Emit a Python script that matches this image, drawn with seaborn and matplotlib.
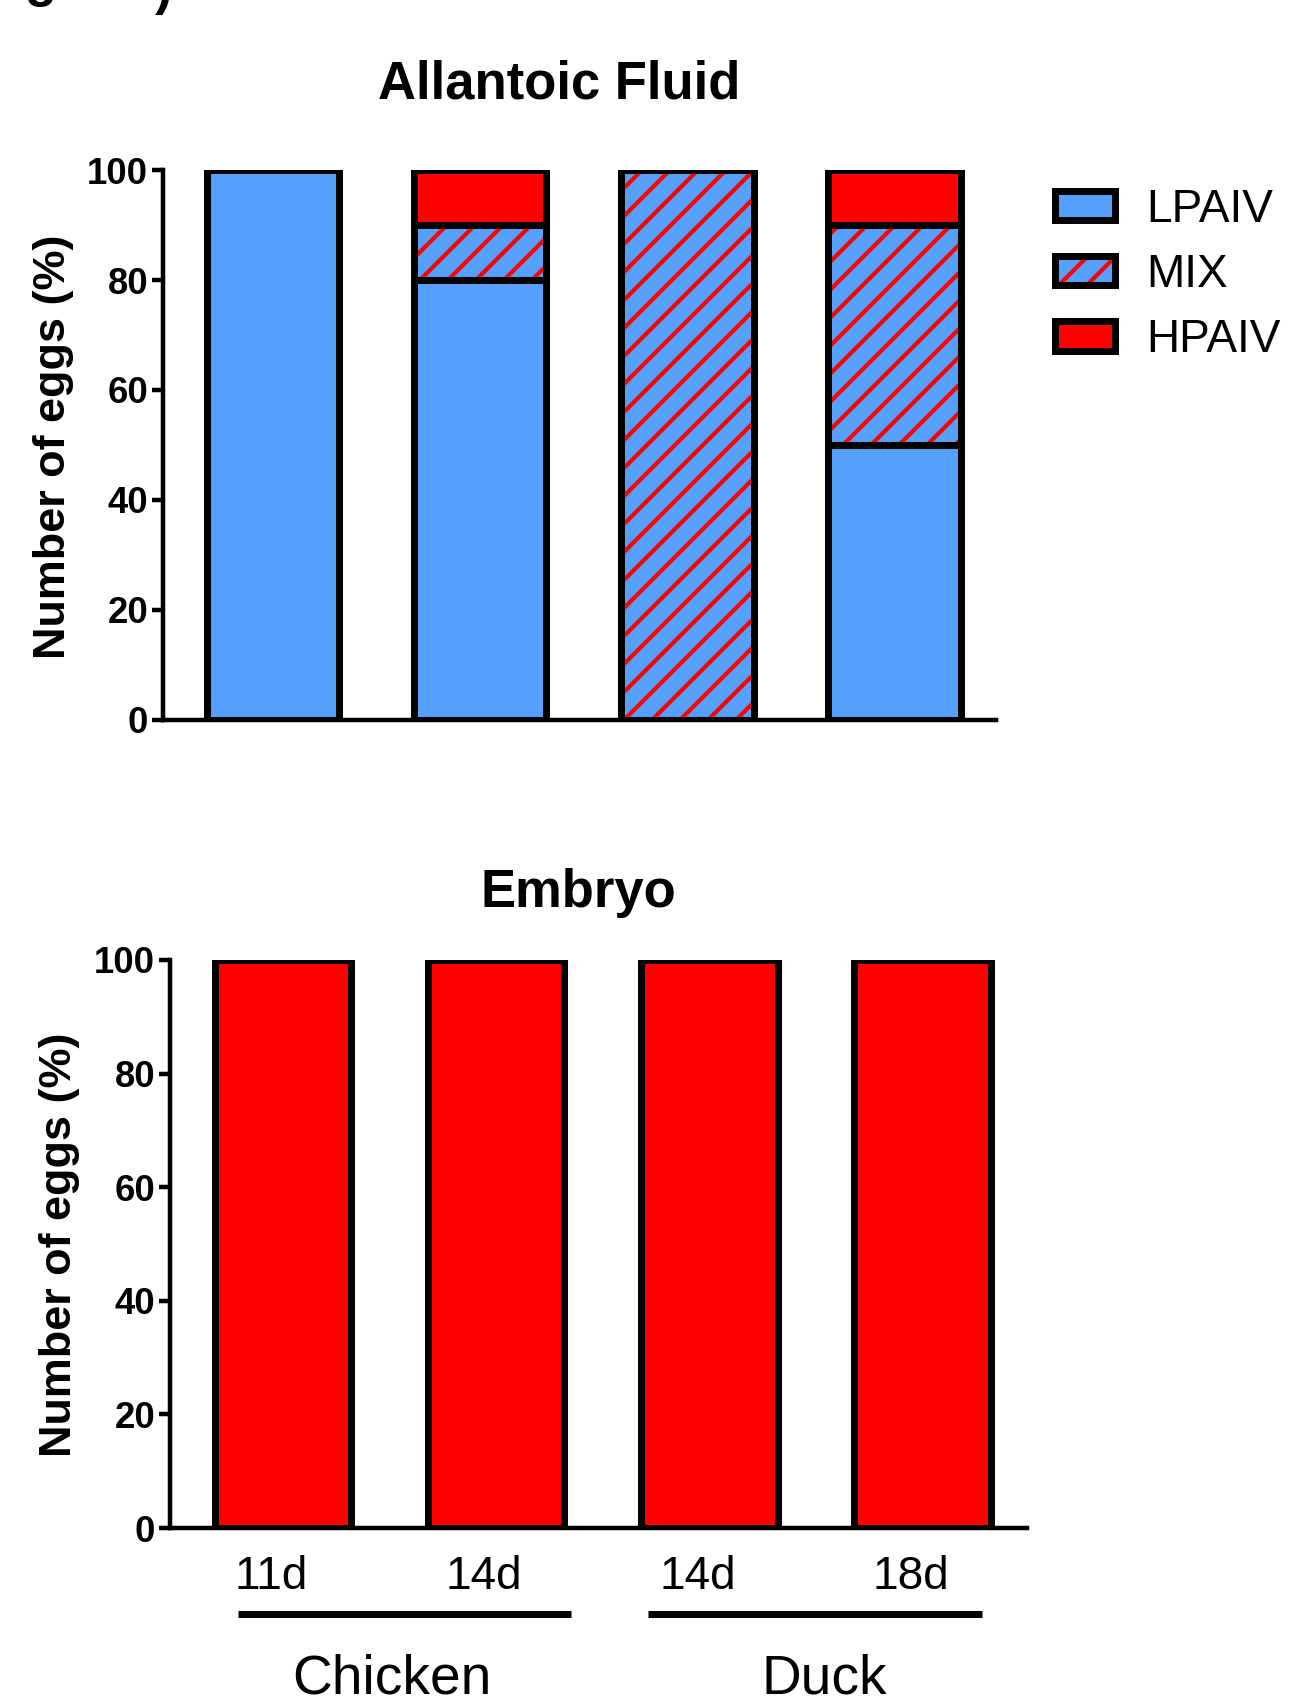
import matplotlib
matplotlib.use("Agg")
import matplotlib.pyplot as plt
import matplotlib.transforms as mtransforms
import pandas as pd
import seaborn as sns
from matplotlib.patches import Patch

# ---- data -------------------------------------------------------------
species = ["Chicken", "Chicken", "Duck", "Duck"]
egg_age = ["11d", "14d", "14d", "18d"]
allantoic_lpaiv = [100, 80, 0, 50]
allantoic_mix = [0, 10, 100, 40]
allantoic_hpaiv = [0, 10, 0, 10]
embryo_hpaiv = [100, 100, 100, 100]
y_ticks = [0, 20, 40, 60, 80, 100]
legend_labels = ["LPAIV", "MIX", "HPAIV"]

# ---- style ------------------------------------------------------------
DPI = 168
PT = 72 / DPI          # one pixel expressed in points
BLUE = "#55A0FF"
RED = "#FF0000"
EDGE = 7 * PT
SPINE = 4.5 * PT
W = 0.64
HATCH = "//"

sns.set_style("ticks")
plt.rcParams.update({
    "font.family": ["Liberation Sans", "DejaVu Sans"],
    "hatch.linewidth": 4.2 * PT,
    "axes.edgecolor": "black",
    "xtick.color": "black",
    "ytick.color": "black",
    "text.color": "black",
    "axes.labelcolor": "black",
})

fig = plt.figure(figsize=(1289 / DPI, 1702 / DPI), dpi=DPI)
ax_top = fig.add_axes([0.1265, 0.5770, 0.6462, 0.3231])
ax_bot = fig.add_axes([0.1319, 0.1022, 0.6648, 0.3338])

keys = [f"{s} {a}" for s, a in zip(species, egg_age)]
af = pd.DataFrame({"key": keys, "lp": allantoic_lpaiv,
                   "mix": allantoic_mix, "hp": allantoic_hpaiv})
af["mix_top"] = af["lp"] + af["mix"]
af["total"] = af["mix_top"] + af["hp"]
emb = pd.DataFrame({"key": keys, "hp": embryo_hpaiv})

common = dict(x="key", order=keys, width=W, saturation=1, errorbar=None)

# stacked bars drawn as overlaid cumulative totals
sns.barplot(data=af, y="total", color=RED, edgecolor="black",
            linewidth=EDGE, ax=ax_top, **common)
sns.barplot(data=af, y="mix_top", color=BLUE, edgecolor=RED,
            linewidth=0, hatch=HATCH, ax=ax_top, **common)
sns.barplot(data=af, y="mix_top", color="black", fill=False,
            linewidth=EDGE, ax=ax_top, **common)
sns.barplot(data=af, y="lp", color=BLUE, edgecolor="black",
            linewidth=EDGE, ax=ax_top, **common)

sns.barplot(data=emb, y="hp", color=RED, edgecolor="black",
            linewidth=EDGE, ax=ax_bot, **common)

tick_fs = 36.5 * PT
label_fs = 45 * PT
title_fs = 52.7 * PT

for ax in (ax_top, ax_bot):
    sns.despine(ax=ax)
    ax.spines["left"].set_linewidth(SPINE)
    ax.spines["bottom"].set_linewidth(SPINE)
    ax.set_xlim(-0.53, 3.49)
    ax.set_ylim(0, 100)
    ax.set_yticks(y_ticks)
    ax.tick_params(axis="y", length=11 * PT, width=SPINE, pad=4 * PT,
                   labelsize=tick_fs)
    for t in ax.get_yticklabels():
        t.set_fontweight("bold")
    ax.set_xlabel("")
    ax.set_ylabel("Number of eggs (%)", fontsize=label_fs, fontweight="bold")

ax_top.yaxis.set_label_coords(-0.107, 0.497)
ax_bot.yaxis.set_label_coords(-0.105, 0.498)

ax_top.tick_params(axis="x", length=0, labelbottom=False)
ax_bot.tick_params(axis="x", length=0, pad=27 * PT, labelsize=46 * PT)
ax_bot.set_xticks(range(len(egg_age)))
ax_bot.set_xticklabels(egg_age)
shift = mtransforms.ScaledTranslation(-12 / DPI, 0, fig.dpi_scale_trans)
for t in ax_bot.get_xticklabels():
    t.set_transform(t.get_transform() + shift)

ax_top.set_title("Allantoic Fluid", fontsize=title_fs, fontweight="bold",
                 x=0.475, pad=72 * PT)
ax_bot.set_title("Embryo", fontsize=title_fs, fontweight="bold",
                 x=0.477, pad=53 * PT)

# species grouping under the lower panel
trans = mtransforms.blended_transform_factory(ax_bot.transData, ax_bot.transAxes)
for name, (x0, x1), xc in [("Chicken", (-0.21, 1.35), 0.51),
                           ("Duck", (1.71, 3.28), 2.54)]:
    ax_bot.plot([x0, x1], [-0.151, -0.151], color="black", lw=7 * PT,
                transform=trans, clip_on=False, solid_capstyle="butt")
    ax_bot.text(xc, -0.292, name, transform=trans, ha="center",
                va="baseline", fontsize=55 * PT)

# legend
handles = [
    Patch(facecolor=BLUE, edgecolor="black", linewidth=EDGE, joinstyle="round"),
    (Patch(facecolor=BLUE, edgecolor=RED, linewidth=0, hatch=HATCH),
     Patch(facecolor="none", edgecolor="black", linewidth=EDGE, joinstyle="round")),
    Patch(facecolor=RED, edgecolor="black", linewidth=EDGE, joinstyle="round"),
]
ax_top.legend(handles, legend_labels,
              loc="upper left", bbox_to_anchor=(1.071, 0.968), frameon=False,
              fontsize=46 * PT, handlelength=1.3, handleheight=0.62,
              handletextpad=0.68, labelspacing=0.46, borderpad=0,
              borderaxespad=0)

# panel caption running off the top edge
fig.text(25 / 1289, 1 + 4 / 1702, "g", fontsize=52 * PT, fontweight="bold",
         va="baseline")
fig.text(155 / 1289, 1 - 4 / 1702, ")", fontsize=52 * PT, fontweight="bold",
         va="baseline")

fig.savefig("out.png", dpi=DPI)
